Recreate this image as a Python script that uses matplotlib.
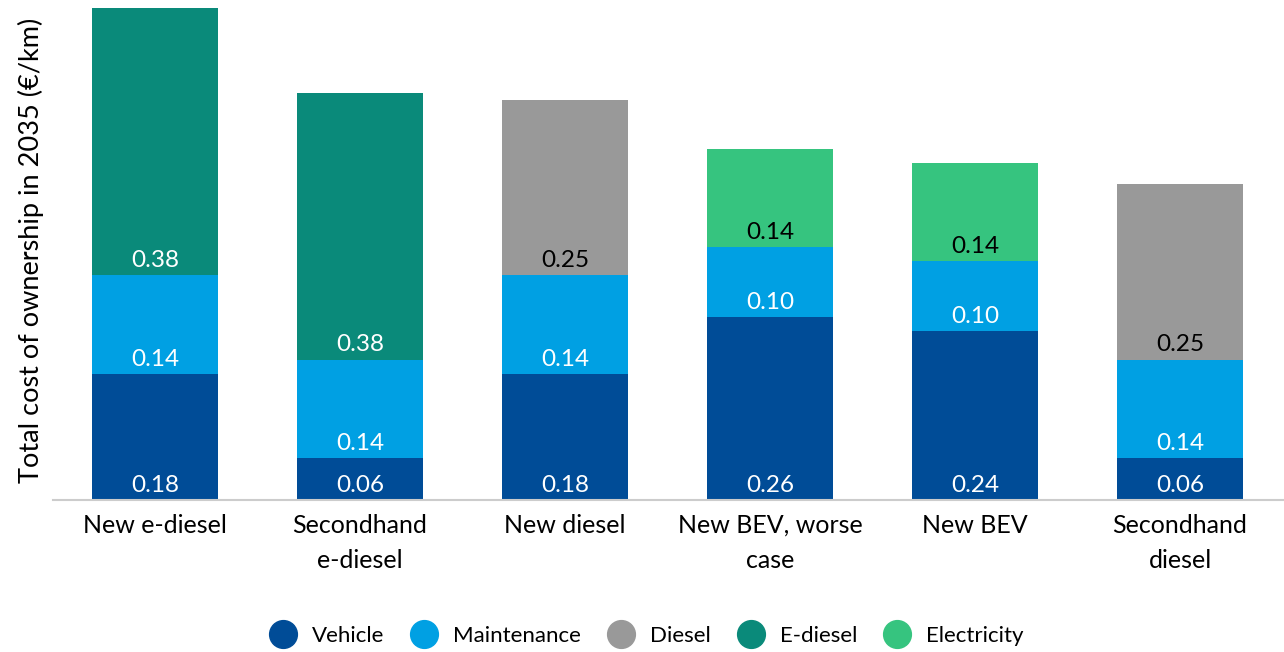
import numpy as np
import matplotlib
matplotlib.use("Agg")
import matplotlib.pyplot as plt
from matplotlib.lines import Line2D

plt.rcParams['font.family'] = ['Lato', 'DejaVu Sans']

categories = ["New e-diesel", "Secondhand\ne-diesel", "New diesel",
              "New BEV, worse\ncase", "New BEV", "Secondhand\ndiesel"]
series_names = ["Vehicle", "Maintenance", "Diesel", "E-diesel", "Electricity"]
vehicle = [0.18, 0.06, 0.18, 0.26, 0.24, 0.06]
maintenance = [0.14, 0.14, 0.14, 0.10, 0.10, 0.14]
diesel = [0, 0, 0.25, 0, 0, 0.25]
e_diesel = [0.38, 0.38, 0, 0, 0, 0]
electricity = [0, 0, 0, 0.14, 0.14, 0]

colors = ["#004C97", "#00A0E3", "#999999", "#0A8A7A", "#36C47F"]
label_colors = ["white", "white", "black", "white", "black"]

fig = plt.figure(figsize=(12.84, 6.52), dpi=100)
ax = fig.add_axes([52.5 / 1284, 1 - 500 / 652, 1230 / 1284, 500 / 652])

x = np.arange(len(categories))
bottom = np.zeros(len(categories))
for vals, col, lcol in zip([vehicle, maintenance, diesel, e_diesel, electricity], colors, label_colors):
    vals = np.array(vals)
    ax.bar(x, vals, width=0.61, bottom=bottom, color=col, edgecolor="none")
    for xi, v, b in zip(x, vals, bottom):
        if v > 0:
            ax.annotate(f"{v:.2f}", (xi, b), xytext=(0, 10.5), textcoords="offset points",
                        ha="center", va="center", fontsize=17.5, color=lcol)
    bottom += vals

ax.set_xlim(-0.5, 5.5)
ax.set_ylim(0, 0.712)
ax.set_xticks(x)
ax.set_xticklabels(categories, fontsize=18, linespacing=1.65)
ax.tick_params(axis="x", length=0, pad=10)
ax.set_yticks([])
for s in ["top", "right", "left"]:
    ax.spines[s].set_visible(False)
ax.spines["bottom"].set_color("#cccccc")
ax.spines["bottom"].set_linewidth(1.5)
ax.set_ylabel("Total cost of ownership in 2035 (€/km)", fontsize=19.5, labelpad=6)

handles = [Line2D([], [], marker="o", linestyle="none", markersize=20,
                  markerfacecolor=c, markeredgecolor=c) for c in colors]
fig.legend(handles, series_names, loc="center", bbox_to_anchor=(0.5, 1 - 636 / 652),
           ncol=5, frameon=False, fontsize=16, handletextpad=0.3, columnspacing=0.8)

fig.savefig("out.png", dpi=100)
